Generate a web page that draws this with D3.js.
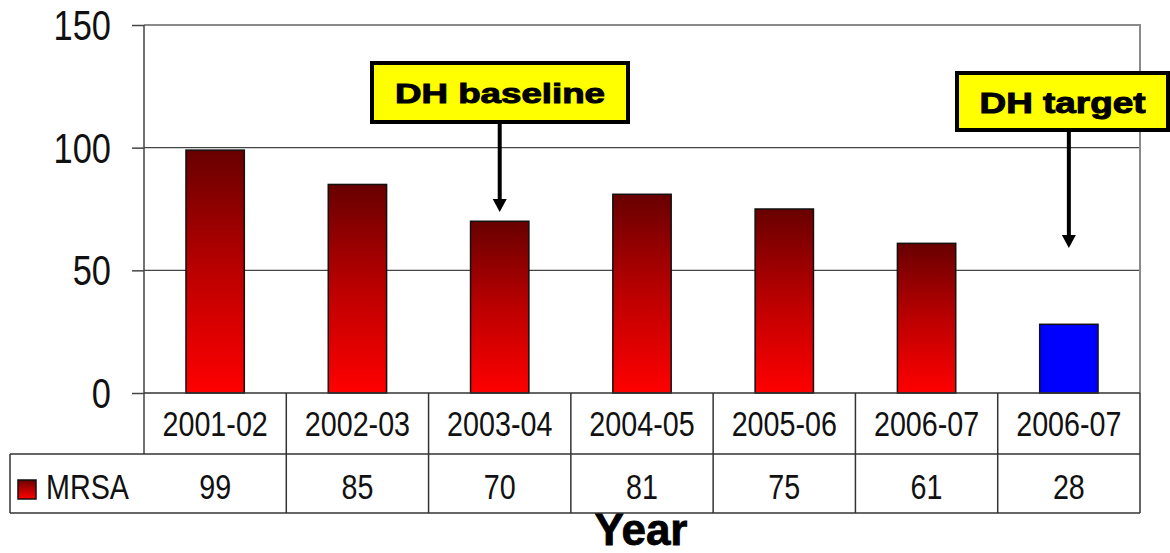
<!DOCTYPE html>
<html>
<head>
<meta charset="utf-8">
<script src="https://cdn.jsdelivr.net/npm/d3@7/dist/d3.min.js"></script>
<style>
  html, body { margin: 0; padding: 0; background: #fff; }
  svg { display: block; font-family: "Liberation Sans", Arial, sans-serif; }
</style>
</head>
<body>
<svg id="chart" width="1170" height="553"></svg>
<script>
// MRSA cases per year, with the DH target as the last column
const categories = ["2001-02", "2002-03", "2003-04", "2004-05", "2005-06", "2006-07", "2006-07"];
const values = [99, 85, 70, 81, 75, 61, 28];
const isTarget = [false, false, false, false, false, false, true];
const yTicks = [0, 50, 100, 150];
const seriesName = "MRSA";
const notes = [
  { label: "DH baseline", index: 2 },
  { label: "DH target", index: 6 }
];

const svg = d3.select("#chart");
const plot = { left: 144, right: 1140, top: 25, bottom: 393 };
const table = { row1: 454, row2: 513, legendLeft: 10 };
const sx = 0.82; // narrow glyphs for the axis and table text

const x = d3.scaleBand()
  .domain(d3.range(categories.length))
  .range([plot.left, plot.right])
  .paddingInner(0.59)
  .paddingOuter(0.295);

const y = d3.scaleLinear().domain([0, 150]).range([plot.bottom, plot.top]);

const defs = svg.append("defs");
const grad = defs.append("linearGradient")
  .attr("id", "redGrad").attr("x1", 0).attr("y1", 0).attr("x2", 0).attr("y2", 1);
grad.append("stop").attr("offset", "0%").attr("stop-color", "#680000");
grad.append("stop").attr("offset", "50%").attr("stop-color", "#bb0000");
grad.append("stop").attr("offset", "100%").attr("stop-color", "#ff0000");

// column boundaries (shared by plot and data table)
const step = x.step();
const colEdges = d3.range(categories.length + 1).map(i => plot.left + i * step);

// gridlines
svg.append("g").selectAll("line")
  .data(yTicks.filter(t => t > 0 && t < 150))
  .join("line")
  .attr("x1", plot.left).attr("x2", plot.right)
  .attr("y1", d => y(d)).attr("y2", d => y(d))
  .attr("stroke", "#444").attr("stroke-width", 1.2);

// plot frame: top and right in grey
svg.append("path")
  .attr("d", `M${plot.left},${y(150)}H${plot.right}V${plot.bottom}`)
  .attr("fill", "none").attr("stroke", "#8a8a8a").attr("stroke-width", 2);

// y axis
const yAxis = svg.append("g")
  .attr("transform", `translate(${plot.left},0)`)
  .call(d3.axisLeft(y).tickValues(yTicks).tickSize(12).tickFormat(""));
yAxis.select(".domain").remove();
yAxis.selectAll(".tick line").attr("stroke", "#444").attr("stroke-width", 1.5);
svg.append("line")
  .attr("x1", plot.left).attr("x2", plot.left)
  .attr("y1", y(150)).attr("y2", table.row1)
  .attr("stroke", "#444").attr("stroke-width", 1.5);

svg.append("g").selectAll("text")
  .data(yTicks)
  .join("text")
  .attr("transform", d => `translate(111,${y(d) + 15}) scale(${sx},1)`)
  .attr("text-anchor", "end")
  .attr("font-size", 42)
  .attr("fill", "#111")
  .text(d => d);

// bars
svg.append("g").selectAll("rect")
  .data(values)
  .join("rect")
  .attr("x", (d, i) => x(i))
  .attr("width", x.bandwidth())
  .attr("y", d => y(d))
  .attr("height", d => y(0) - y(d))
  .attr("fill", (d, i) => isTarget[i] ? "#0000ff" : "url(#redGrad)")
  .attr("stroke", "#111").attr("stroke-width", 1.5);

// data table
const tg = svg.append("g").attr("stroke", "#333").attr("stroke-width", 1.5);
tg.append("line").attr("x1", plot.left).attr("x2", plot.right).attr("y1", plot.bottom).attr("y2", plot.bottom);
tg.append("line").attr("x1", table.legendLeft).attr("x2", plot.right).attr("y1", table.row1).attr("y2", table.row1);
tg.append("line").attr("x1", table.legendLeft).attr("x2", plot.right).attr("y1", table.row2).attr("y2", table.row2);
tg.append("line").attr("x1", table.legendLeft).attr("x2", table.legendLeft).attr("y1", table.row1).attr("y2", table.row2);
tg.selectAll("line.col")
  .data(colEdges.slice(1))
  .join("line").attr("class", "col")
  .attr("x1", d => d).attr("x2", d => d)
  .attr("y1", plot.bottom).attr("y2", table.row2);

const center = i => x(i) + x.bandwidth() / 2;

svg.append("g").selectAll("text")
  .data(categories)
  .join("text")
  .attr("transform", (d, i) => `translate(${center(i)},436) scale(${sx},1)`)
  .attr("text-anchor", "middle")
  .attr("font-size", 35)
  .attr("fill", "#111")
  .text(d => d);

svg.append("g").selectAll("text")
  .data(values)
  .join("text")
  .attr("transform", (d, i) => `translate(${center(i)},499) scale(${sx},1)`)
  .attr("text-anchor", "middle")
  .attr("font-size", 35)
  .attr("fill", "#111")
  .text(d => d);

// legend key
svg.append("rect")
  .attr("x", 18).attr("y", 480).attr("width", 18).attr("height", 19)
  .attr("fill", "url(#redGrad)").attr("stroke", "#111").attr("stroke-width", 1.5);
svg.append("text")
  .attr("transform", `translate(46,499) scale(${sx},1)`)
  .attr("font-size", 35).attr("fill", "#111")
  .text(seriesName);

// axis title
svg.append("text")
  .attr("x", 641).attr("y", 545)
  .attr("text-anchor", "middle")
  .attr("font-size", 44).attr("font-weight", "bold")
  .attr("fill", "#000").attr("stroke", "#000").attr("stroke-width", 0.8)
  .text("Year");

// callouts with arrows
const boxes = [
  { x0: 372, x1: 628, y0: 63, y1: 122, textW: 210, base: 103, size: 28, tip: 212 },
  { x0: 957, x1: 1168, y0: 73, y1: 130, textW: 166, base: 113, size: 29, tip: 248 }
];
notes.forEach((n, k) => {
  const b = boxes[k];
  const cx = center(n.index);
  svg.append("line")
    .attr("x1", cx).attr("x2", cx)
    .attr("y1", b.y1).attr("y2", b.tip - 10)
    .attr("stroke", "#000").attr("stroke-width", 4);
  svg.append("path")
    .attr("d", `M${cx - 7},${b.tip - 13}L${cx + 7},${b.tip - 13}L${cx},${b.tip}Z`)
    .attr("fill", "#000");
  svg.append("rect")
    .attr("x", b.x0).attr("y", b.y0)
    .attr("width", b.x1 - b.x0).attr("height", b.y1 - b.y0)
    .attr("fill", "#ffff00").attr("stroke", "#000").attr("stroke-width", 4);
  svg.append("text")
    .attr("x", (b.x0 + b.x1) / 2).attr("y", b.base)
    .attr("text-anchor", "middle")
    .attr("font-size", b.size).attr("font-weight", "bold")
    .attr("textLength", b.textW).attr("lengthAdjust", "spacingAndGlyphs")
    .attr("fill", "#000").attr("stroke", "#000").attr("stroke-width", 1)
    .text(n.label);
});
</script>
</body>
</html>
